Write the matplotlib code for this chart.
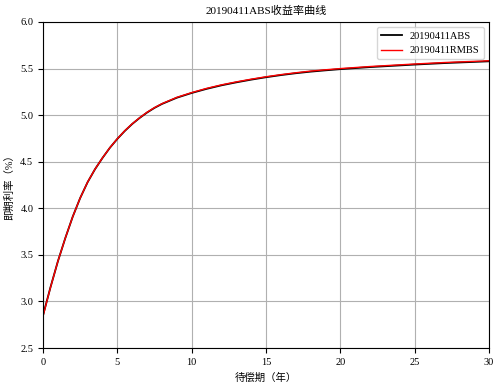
import matplotlib
matplotlib.use("Agg")
import matplotlib.pyplot as plt

plt.rcParams['font.family'] = ['Liberation Serif', 'Noto Sans CJK SC', 'DejaVu Sans']
plt.rcParams['axes.unicode_minus'] = False

# term (years) and spot rate (%)
term = [0, 0.25, 0.5, 0.75, 1.0, 1.5, 2.0, 2.5, 3.0, 3.5, 4.0, 4.5, 5.0,
        5.5, 6.0, 6.5, 7.0, 7.5, 8.0, 9.0, 10.0, 11.0, 12.0, 13.0, 14.0,
        15.0, 16.0, 17.0, 18.0, 19.0, 20.0, 22.0, 25.0, 27.0, 30.0]
abs_rate = [2.85, 3.00, 3.15, 3.29, 3.43, 3.68, 3.91, 4.11, 4.28, 4.42,
            4.54, 4.65, 4.745, 4.83, 4.905, 4.97, 5.028, 5.078, 5.12,
            5.187, 5.238, 5.282, 5.32, 5.352, 5.381, 5.407, 5.43, 5.45,
            5.467, 5.481, 5.494, 5.516, 5.543, 5.559, 5.578]
rmbs_rate = [2.84, 2.995, 3.148, 3.289, 3.43, 3.68, 3.91, 4.11, 4.281,
             4.421, 4.541, 4.651, 4.747, 4.832, 4.907, 4.972, 5.031, 5.081,
             5.123, 5.191, 5.242, 5.287, 5.325, 5.357, 5.386, 5.412, 5.435,
             5.455, 5.473, 5.487, 5.5, 5.522, 5.549, 5.565, 5.584]

fig = plt.figure(figsize=(5.01, 3.86), dpi=100)
ax = fig.add_axes([43 / 501, 38 / 386, 446 / 501, 326 / 386])

ax.plot(term, abs_rate, color='black', lw=1.3, label='20190411ABS')
ax.plot(term, rmbs_rate, color='red', lw=1.0, label='20190411RMBS')

ax.set_xlim(0, 30)
ax.set_ylim(2.5, 6.0)
ax.grid(True, color='#b0b0b0', lw=0.8)
ax.tick_params(labelsize=7.5)
ax.set_title('20190411ABS收益率曲线', fontsize=8)
ax.set_xlabel('待偿期（年）', fontsize=7.5)
ax.set_ylabel('即期利率（%）', fontsize=7.5)
ax.legend(loc='upper right', fontsize=7.5)

fig.savefig('out.png', dpi=100)
